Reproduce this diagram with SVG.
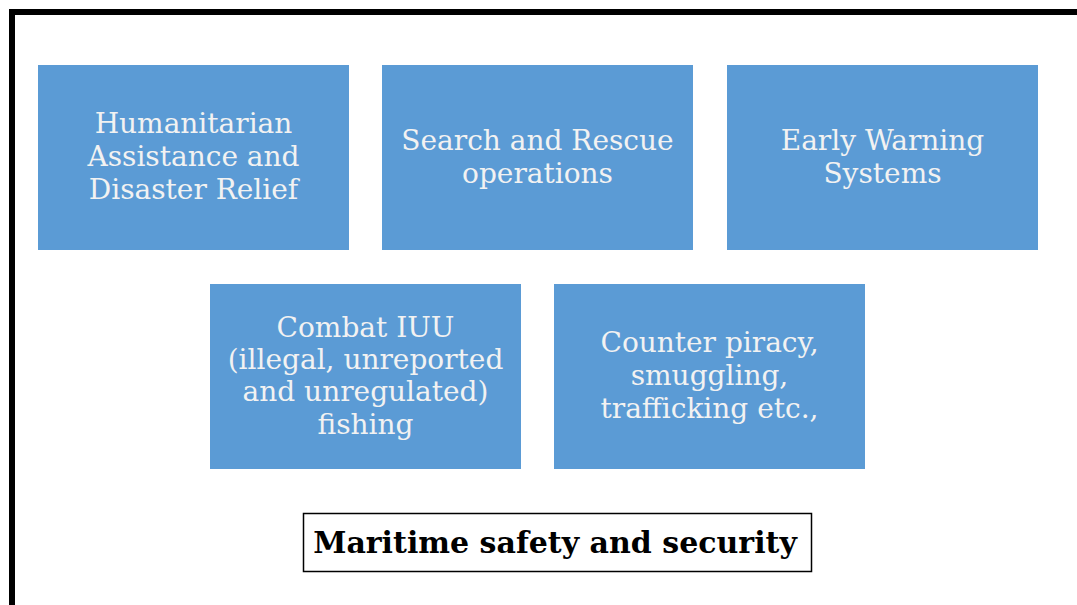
<svg xmlns="http://www.w3.org/2000/svg" width="1077" height="605" viewBox="0 0 1077 605">
<style>
.box{fill:#5B9BD5;}
.t{font-family:"DejaVu Serif","Liberation Serif",serif;font-size:28px;fill:#F2F2F2;text-anchor:middle;}
.title{font-family:"DejaVu Serif","Liberation Serif",serif;font-size:30px;font-weight:bold;fill:#000;text-anchor:middle;}
</style>
<rect x="0" y="0" width="1077" height="605" fill="#fff"/>
<path d="M12,610 V12 H1090" fill="none" stroke="#000" stroke-width="6"/>
<g id="humanitarian">
<rect class="box" x="38" y="65" width="311" height="185"/>
<text class="t" x="193.5" y="133">Humanitarian</text>
<text class="t" x="193.5" y="166">Assistance and</text>
<text class="t" x="193.5" y="199">Disaster Relief</text>
</g>
<g id="search">
<rect class="box" x="382" y="65" width="311" height="185"/>
<text class="t" x="537.5" y="150">Search and Rescue</text>
<text class="t" x="537.5" y="183">operations</text>
</g>
<g id="early">
<rect class="box" x="727" y="65" width="311" height="185"/>
<text class="t" x="882.5" y="150">Early Warning</text>
<text class="t" x="882.5" y="183">Systems</text>
</g>
<g id="iuu">
<rect class="box" x="210" y="284" width="311" height="185"/>
<text class="t" x="365.5" y="337">Combat IUU</text>
<text class="t" x="365.5" y="369">(illegal, unreported</text>
<text class="t" x="365.5" y="401">and unregulated)</text>
<text class="t" x="365.5" y="434">fishing</text>
</g>
<g id="piracy">
<rect class="box" x="554" y="284" width="311" height="185"/>
<text class="t" x="709.5" y="352">Counter piracy,</text>
<text class="t" x="709.5" y="385">smuggling,</text>
<text class="t" x="709.5" y="418">trafficking etc.,</text>
</g>
<g id="connectors"></g>
<g id="maritime">
<rect x="303.5" y="513.5" width="508" height="58" fill="#fff" stroke="#000" stroke-width="1.5"/>
<text class="title" x="555" y="553">Maritime safety and security</text>
</g>
</svg>
